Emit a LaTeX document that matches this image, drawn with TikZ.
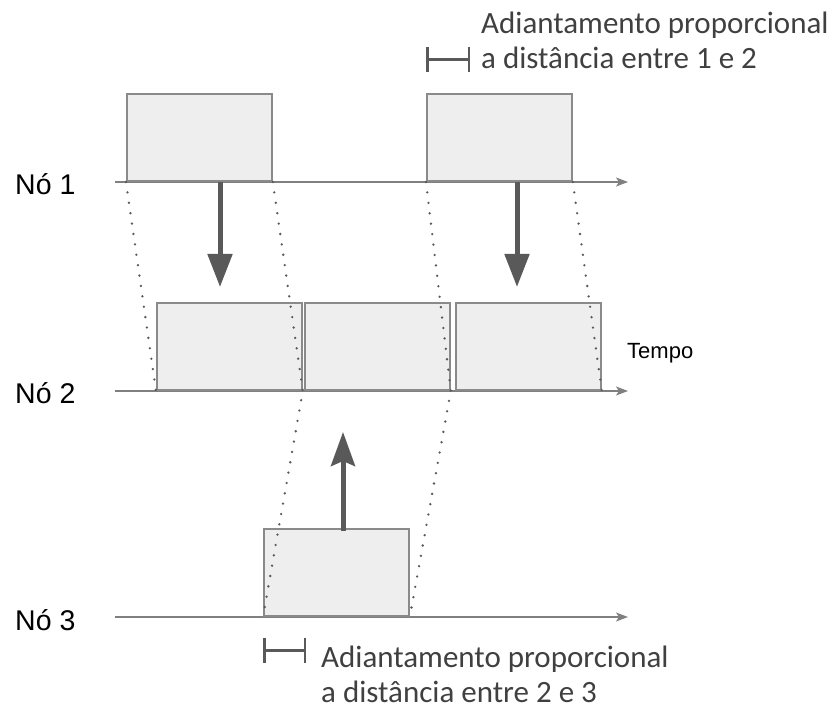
\documentclass[tikz,border=0pt]{standalone}
\usepackage{fontspec}
\setmainfont{Carlito}
\newfontfamily\arialfont{Liberation Sans}
\usetikzlibrary{arrows.meta,positioning}
\definecolor{boxfill}{RGB}{238,238,238}
\definecolor{boxline}{RGB}{138,138,138}
\definecolor{axisgray}{RGB}{128,128,128}
\definecolor{arrowgray}{RGB}{89,89,89}
\definecolor{textgray}{RGB}{64,64,64}

\begin{document}
\begin{tikzpicture}[x=1pt, y=-1pt,
    slot/.style={draw=boxline, fill=boxfill, line width=1.8pt, minimum width=145pt,
        minimum height=87pt, inner sep=0pt, anchor=south west},
    axis/.style={draw=axisgray, line width=1.6pt, -{Stealth[length=12pt, width=9pt, inset=3pt]}},
    link/.style={draw=arrowgray, line width=2.6pt, line cap=round, dash pattern=on 0pt off 10.5pt},
    push/.style={draw=arrowgray, line width=5pt, -{Triangle[length=33pt, width=24pt]}},
    pull/.style={draw=arrowgray, line width=5pt, -{Stealth[length=34pt, width=24pt, inset=5pt]}},
    span/.style={draw=arrowgray, line width=2.5pt, {Bar[width=25pt]}-{Bar[width=25pt]}},
    rowname/.style={anchor=west, inner sep=0pt, font=\arialfont\fontsize{28.5}{32}\selectfont},
    note/.style={anchor=west, inner sep=0pt, align=left, text=textgray,
        font=\fontsize{31}{35}\selectfont}]
    \useasboundingbox (0, 0) rectangle (832, 711);
    \begin{scope}
        \node[rowname] (n1) at (15, 184) {Nó 1};
        \draw[axis] (115, 182) -- (628, 182);
        \node[slot] (b11) at (126, 182) {};
        \node[slot] (b12) at (426, 182) {};
    \end{scope}
    \begin{scope}
        \node[rowname] (n2) at (15, 393) {Nó 2};
        \draw[axis] (115, 391) -- (628, 391);
        \node[slot] (b21) at (156, 391) {};
        \node[slot] (b22) at (304, 391) {};
        \node[slot] (b23) at (455, 391) {};
        \node[anchor=west, inner sep=0pt, font=\arialfont\fontsize{22}{26}\selectfont] (tempo) at (627, 353) {Tempo};
    \end{scope}
    \begin{scope}
        \node[rowname] (n3) at (15, 620) {Nó 3};
        \draw[axis] (115, 617) -- (628, 617);
        \node[slot] (b31) at (263, 617) {};
    \end{scope}
    \draw[link] (b11.south west) -- (b21.south west);
    \draw[link] (b11.south east) -- (b21.south east) -- (b31.south west);
    \draw[link] (b12.south west) -- (b22.south east) -- (b31.south east);
    \draw[link] (b12.south east) -- (b23.south east);
    \coordinate (d1) at (220, 182);
    \coordinate (d1e) at (220, 287);
    \coordinate (d2) at (517, 182);
    \coordinate (d2e) at (517, 287);
    \coordinate (u3) at (343, 531);
    \coordinate (u3e) at (343, 432);
    \draw[push] (d1) -- (d1e);
    \draw[push] (d2) -- (d2e);
    \draw[pull] (u3) -- (u3e);
    \draw[span] (426, 59.5) -- (470, 59.5);
    \node[note] (note12) at (481, 40) {Adiantamento proporcional\\a distância entre 1 e 2};
    \draw[span] (263, 650.5) -- (306, 650.5);
    \node[note] (note23) at (321, 674) {Adiantamento proporcional\\a distância entre 2 e 3};
\end{tikzpicture}
\end{document}
